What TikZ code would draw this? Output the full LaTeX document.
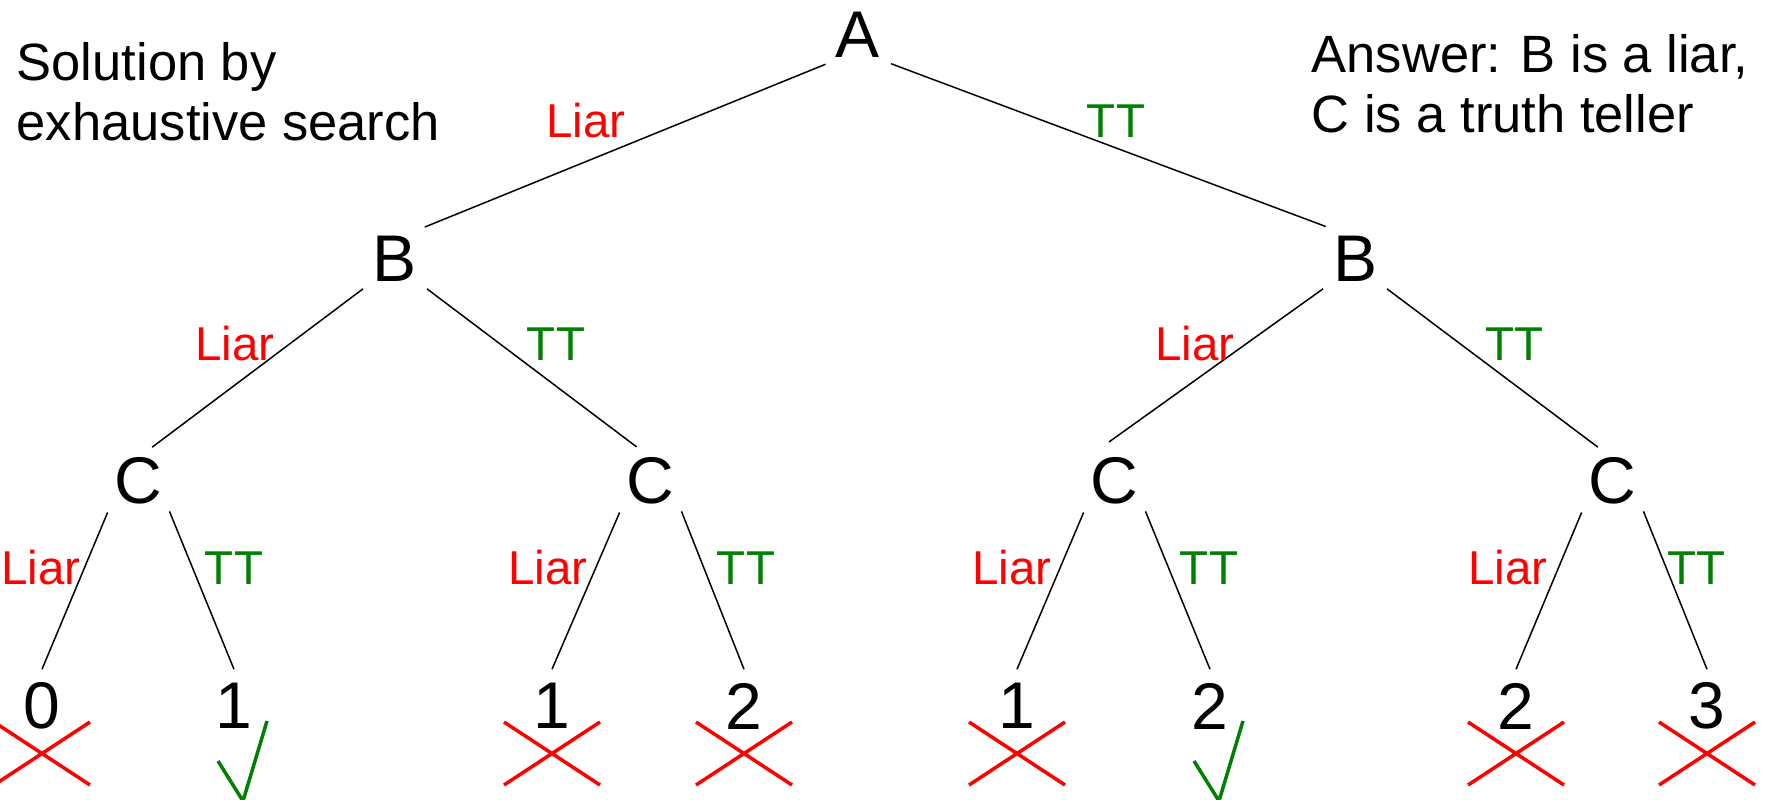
\documentclass[tikz,border=0pt]{standalone}
\usepackage{fontspec}
\setmainfont{Liberation Sans}
\definecolor{ttgreen}{RGB}{0,128,0}
\tikzset{
	big/.style={shape=circle,inner sep=0pt,minimum size=43pt,font=\fontsize{33pt}{36pt}\selectfont},
	liar/.style={text=red,inner sep=0pt,font=\fontsize{23.75pt}{26pt}\selectfont},
	tt/.style={liar,text=ttgreen},
	note/.style={anchor=north west,inner sep=0pt,align=left,font=\fontsize{26.25pt}{30pt}\selectfont},
	nope/.style={red,line width=1.75pt},
	yes/.style={ttgreen,line width=1.75pt}
}
\begin{document}
\begin{tikzpicture}[x=0.5pt,y=-0.5pt,line width=0.75pt]
\useasboundingbox (0,0) rectangle (1767,799);
\node[note,name=how] at (16,42){Solution by\\exhaustive search};
\node[note,name=ans] at (1311,34){Answer: B is a liar,\\C is a truth teller};
\node[big,name=a] at (858,35){A};
\node[big,name=b1] at (395,259){B};
\node[big,name=b2] at (1355,259){B};
\foreach \x [count=\i] in {138,650,1114,1612}{
	\node[big,name=c\i] at (\x,481){C};
};
\foreach \x/\v [count=\i] in {42/0,234/1,552/1,744/2,1017/1,1210/2,1516/2,1707/3}{
	\node[big,minimum size=36pt,name=d\i] at (\x,706){\v};
};
\draw (a.222)--(b1.47);
\draw (a.319)--(b2.132);
\foreach \p/\c/\s/\e in {b1/c1/223/62,b1/c2/317/117,b2/c3/223/88,b2/c4/317/118}{
	\draw[shorten >=-4pt] (\p.\s)--(\c.\e);
};
\foreach \c/\l/\r in {c1/d1/d2,c2/d3/d4,c3/d5/d6,c4/d7/d8}{
	\draw (\c.226)--(\l.90);
	\draw (\c.316)--(\r.90);
};
\foreach \x/\y [count=\i] in {586/121,235/344,1195/344,41/568,548/568,1012/568,1508/568}{
	\node[liar,name=l\i] at (\x,\y){Liar};
};
\foreach \x/\y [count=\i] in {1116/121,556/344,1514/344,234/568,746/568,1209/568,1696/568}{
	\node[tt,name=t\i] at (\x,\y){TT};
};
\foreach \i in {1,3,4,5,7,8}{
	\draw[nope] ([shift={(-48,16)}]d\i.center)--([shift={(48,79)}]d\i.center)
		([shift={(-48,79)}]d\i.center)--([shift={(48,16)}]d\i.center);
};
\foreach \i in {2,6}{
	\draw[yes] ([shift={(-16,55)}]d\i.center)--([shift={(9,95)}]d\i.center)--([shift={(33,15)}]d\i.center);
};
\end{tikzpicture}
\end{document}
